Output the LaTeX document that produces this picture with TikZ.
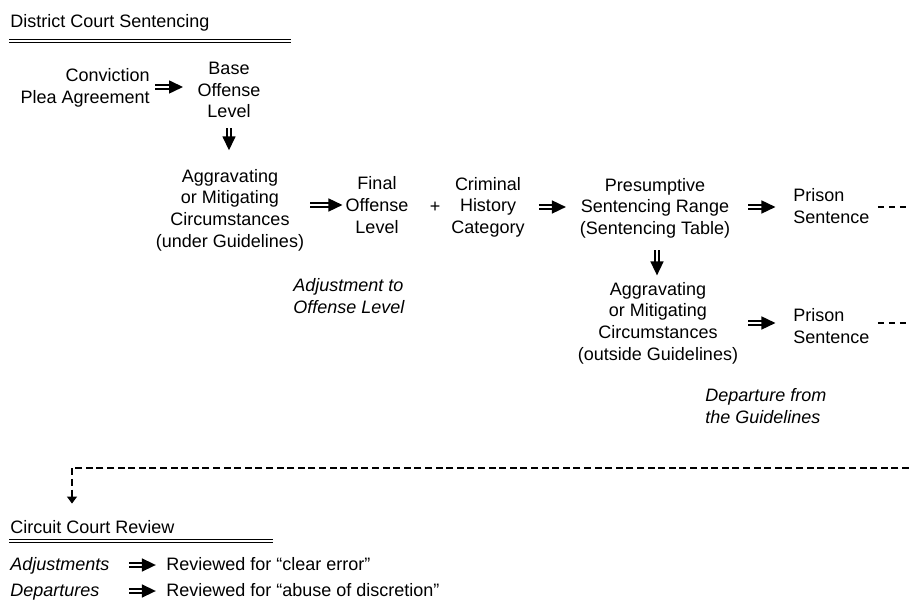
\documentclass[tikz,border=0pt]{standalone}
\usepackage{fontspec}
\setmainfont{Liberation Sans}
\usetikzlibrary{arrows.meta,positioning}

\begin{document}
\begin{tikzpicture}[x=0.5pt,y=-0.5pt,
                    txt/.style={inner sep=0pt,align=center,font=\fontsize{9}{10.8}\selectfont},
                    note/.style={inner sep=0pt,align=left,font=\fontsize{9}{10.8}\selectfont\itshape},
                    head/.style={inner sep=0pt,anchor=base west,font=\fontsize{9}{10.8}\selectfont},
                    imp/.style={double,double distance=1.2pt,line width=0.8pt,
                                -{Triangle[length=7pt,width=6.5pt]}},
                    rule/.style={double,double distance=0.85pt,line width=0.65pt},
                    cont/.style={line width=0.65pt,dash pattern=on 3pt off 2.5pt},
                    back/.style={line width=0.65pt,dash pattern=on 3.5pt off 1.8pt,
                                 -{Triangle[length=3.5pt,width=5pt]}}
                ]
                    \useasboundingbox (0,0) rectangle (909,608);
                    % district court
                    \node[head] (dist) at (10,28) {District Court Sentencing};
                    \draw[rule] (9,41) -- (291,41);
                    \node[txt,anchor=east,align=right] (conv) at (150,88) {Conviction\\Plea Agreement};
                    \node[txt] (base) at (229,90) {Base\\Offense\\Level};
                    \node[txt] (agg1) at (230,210) {Aggravating\\or Mitigating\\Circumstances\\(under Guidelines)};
                    \node[txt] (final) at (377,205) {Final\\Offense\\Level};
                    \node[txt] (plus) at (435,207) {+};
                    \node[txt] (crim) at (488,207) {Criminal\\History\\Category};
                    \node[txt] (pres) at (655,208) {Presumptive\\Sentencing Range\\(Sentencing Table)};
                    \node[txt,anchor=west,align=left] (pris1) at (793,206) {Prison\\Sentence};
                    \node[txt] (agg2) at (658,323) {Aggravating\\or Mitigating\\Circumstances\\(outside Guidelines)};
                    \node[txt,anchor=west,align=left] (pris2) at (793,326) {Prison\\Sentence};
                    \node[note,anchor=west] (adj) at (293,296) {Adjustment to\\Offense Level};
                    \node[note,anchor=west] (dep) at (705,406) {Departure from\\the Guidelines};
                    \draw[imp] (conv.east |- 0,87) ++(5,0) -- ++(28,0);
                    \draw[imp] (base.south) ++(0,10) -- ++(0,22);
                    \draw[imp] (agg1.east |- final.west) ++(6,0) -- ++(32,0);
                    \draw[imp] (crim.east) ++(14,0) -- ++(27,0);
                    \draw[imp] (pres.east) ++(18,-1) -- ++(27,0);
                    \draw[imp] (pres.south) ++(2,12) -- ++(0,25);
                    \draw[imp] (agg2.east |- pris2.west) ++(10,-3) -- ++(27,0);
                    \coordinate (end1) at (909,207);
                    \coordinate (end2) at (909,323);
                    \draw[cont] (pris1.east |- end1) ++(8,0) -- (end1);
                    \draw[cont] (pris2.east |- end2) ++(8,0) -- (end2);
                    % circuit court
                    \node[head] (circ) at (10,533) {Circuit Court Review};
                    \draw[rule] (9,541) -- (273,541);
                    \coordinate (right) at (909,468);
                    \coordinate (corner) at (72,468);
                    \draw[back] (right) -- (corner) -- (corner |- circ.north) [shorten >=8pt];
                    \node[note,anchor=west] (adjs) at (10,566) {Adjustments};
                    \node[note,anchor=west] (deps) at (10,592) {Departures};
                    \node[txt,anchor=west] (rev1) at (166,564) {Reviewed for “clear error”};
                    \node[txt,anchor=west] (rev2) at (166,590) {Reviewed for “abuse of discretion”};
                    \draw[imp] (adjs.east |- rev1.west) ++(19,1) -- ++(27,0);
                    \draw[imp] (deps.east |- rev2.west) ++(29,1) -- ++(27,0);
                \end{tikzpicture}
\end{document}
